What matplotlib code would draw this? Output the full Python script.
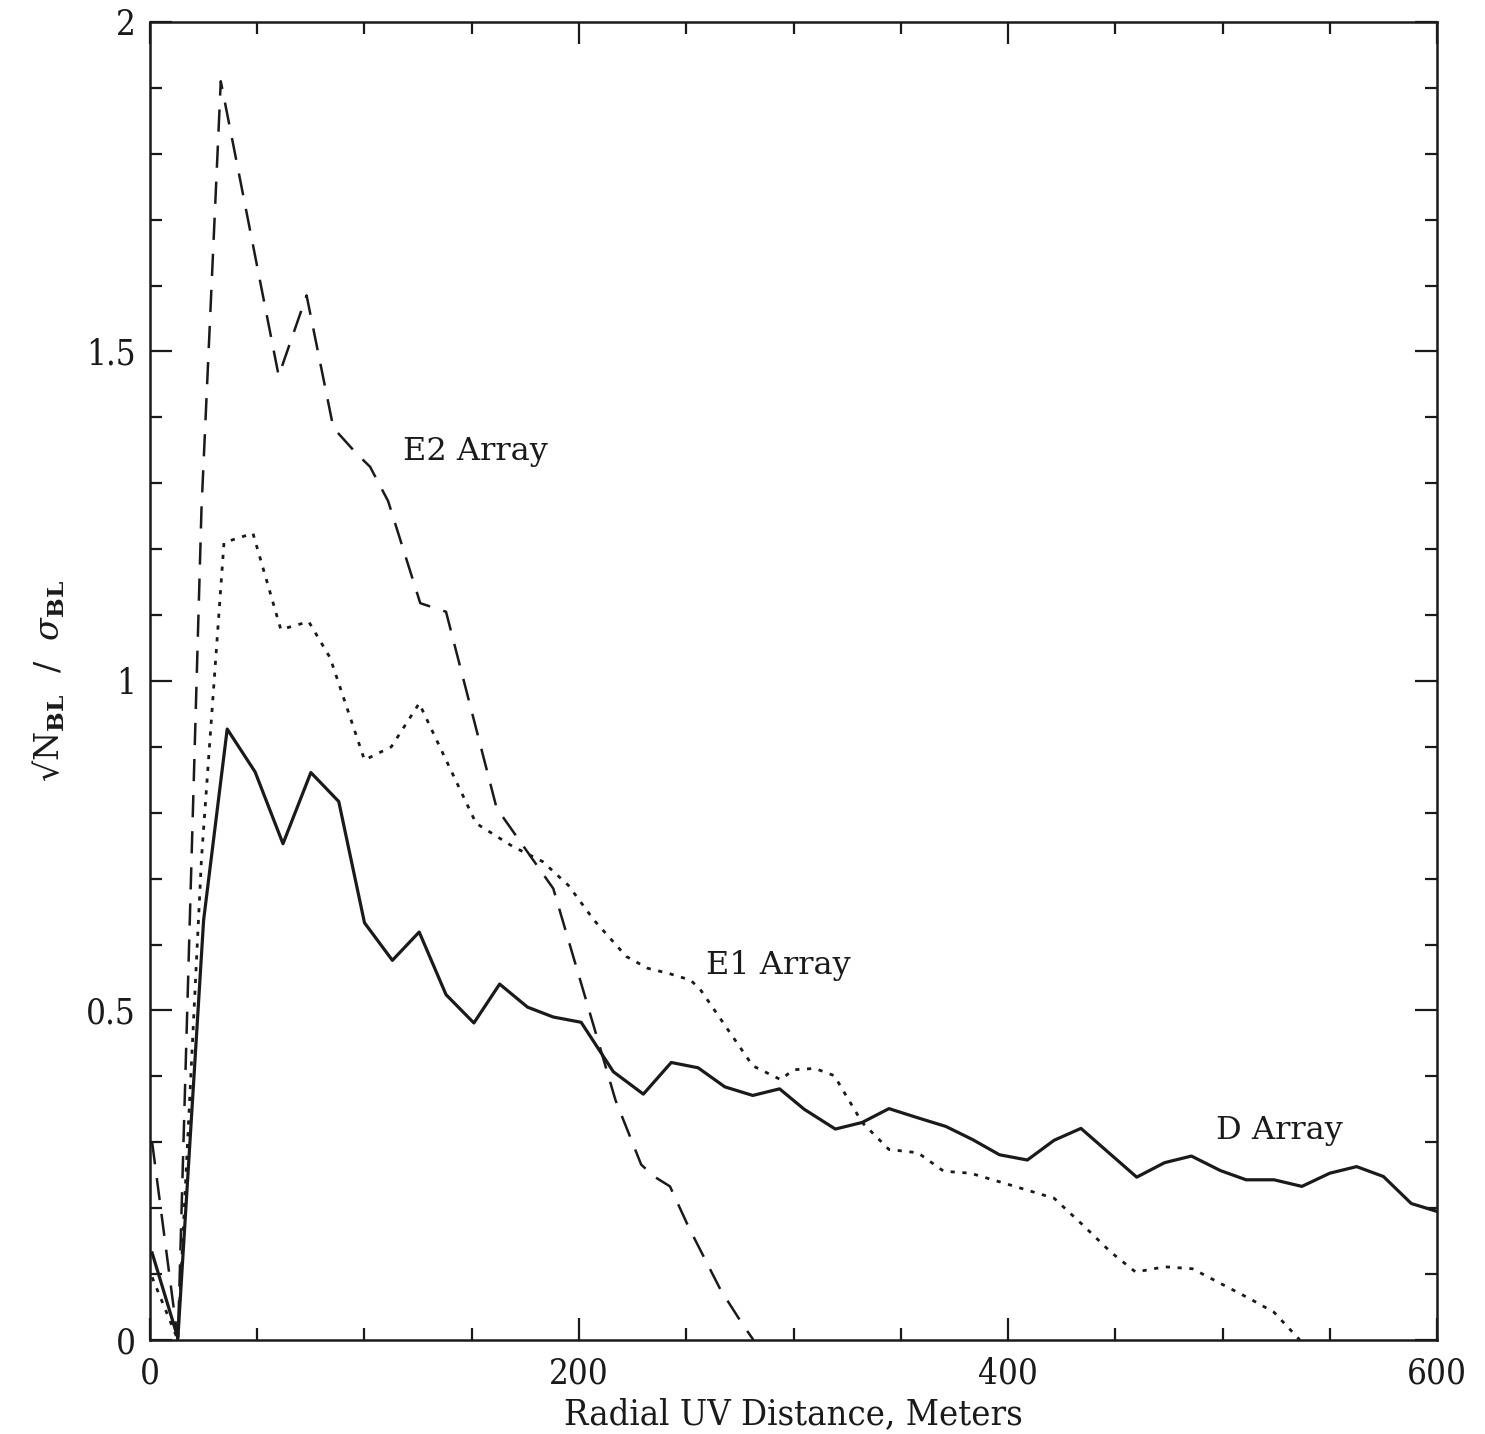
import matplotlib
matplotlib.use('Agg')
import matplotlib.pyplot as plt
from matplotlib.ticker import MultipleLocator

plt.rcParams['font.family'] = ['DejaVu Serif', 'DejaVu Sans']
plt.rcParams['mathtext.fontset'] = 'dejavuserif'
plt.rcParams['lines.scale_dashes'] = False

# D array (solid)
d_x = [1, 13, 25, 36, 49, 62, 75, 88, 100, 113, 125.5, 138, 151, 163, 176, 188,
       201, 216, 230, 243, 255.5, 268, 281, 293.5, 305, 319.5, 332, 344.5, 358,
       371, 383.5, 396, 409, 421.5, 434, 447, 460, 473, 485.5, 499, 511, 524,
       537, 550, 562.5, 575, 588, 600]
d_y = [0.132, 0.003, 0.637, 0.927, 0.862, 0.753, 0.861, 0.817, 0.633, 0.576,
       0.619, 0.524, 0.481, 0.540, 0.505, 0.490, 0.482, 0.407, 0.373, 0.421,
       0.413, 0.384, 0.371, 0.381, 0.350, 0.320, 0.330, 0.351, 0.337, 0.324,
       0.304, 0.281, 0.273, 0.303, 0.321, 0.284, 0.247, 0.269, 0.279, 0.257,
       0.243, 0.243, 0.233, 0.253, 0.263, 0.248, 0.207, 0.195]

# E1 array (dotted)
e1_x = [1, 13, 24, 34.5, 48, 61, 74, 84, 100, 112.5, 125.5, 152, 169, 183,
        195, 207, 222, 232, 242, 252, 256.5, 281, 294, 300, 310, 319, 332,
        344.5, 358, 370, 382.5, 396, 421.5, 435, 448, 459.5, 473, 486, 499.5,
        513, 524, 536]
e1_y = [0.095, 0.0, 0.73, 1.21, 1.224, 1.078, 1.09, 1.035, 0.88, 0.90, 0.966,
        0.784, 0.749, 0.726, 0.69, 0.637, 0.582, 0.564, 0.556, 0.546, 0.532,
        0.416, 0.395, 0.41, 0.412, 0.401, 0.33, 0.289, 0.284, 0.256, 0.253,
        0.240, 0.215, 0.174, 0.133, 0.103, 0.111, 0.108, 0.085, 0.062, 0.042,
        0.0]

# E2 array (dashed)
e2_x = [1, 13, 24, 33, 60, 73, 85.5, 96, 102.6, 111, 126, 138, 161.6, 175,
        188, 217, 229, 235, 242.4, 251, 266, 276, 281.3]
e2_y = [0.30, 0.0, 1.26, 1.91, 1.463, 1.585, 1.384, 1.346, 1.325, 1.273,
        1.118, 1.105, 0.807, 0.745, 0.685, 0.364, 0.266, 0.248, 0.233, 0.172,
        0.076, 0.025, 0.0]

ink = '#1a1a1a'

fig = plt.figure(figsize=(14.85, 14.34), dpi=100)
ax = fig.add_axes([0.101, 0.0656, 0.8667, 0.9191])

ax.plot(d_x, d_y, color=ink, lw=2.3, ls='-')
ax.plot(e1_x, e1_y, color=ink, lw=2.0, ls=(0, (3.0, 5.5)))
ax.plot(e2_x, e2_y, color=ink, lw=1.8, ls=(0, (16, 10)))

ax.text(118, 1.335, 'E2 Array', fontsize=23, color=ink)
ax.text(259, 0.555, 'E1 Array', fontsize=23, color=ink)
ax.text(497, 0.305, 'D Array', fontsize=23, color=ink)

ax.set_xlim(0, 600)
ax.set_ylim(0, 2)
ax.xaxis.set_major_locator(MultipleLocator(200))
ax.xaxis.set_minor_locator(MultipleLocator(50))
ax.yaxis.set_major_locator(MultipleLocator(0.5))
ax.yaxis.set_minor_locator(MultipleLocator(0.1))
ax.set_yticks([0, 0.5, 1, 1.5, 2])
ax.set_yticklabels(['0', '0.5', '1', '1.5', '2'])

ax.tick_params(which='both', direction='in', top=True, right=True,
               colors=ink, width=1.6, labelsize=25)
ax.tick_params(which='major', length=16)
ax.tick_params(which='minor', length=8.5)
ax.tick_params(axis='x', pad=12)
ax.tick_params(axis='y', pad=10)
for lab in ax.get_xticklabels() + ax.get_yticklabels():
    lab.set_fontstretch('condensed')
for s in ax.spines.values():
    s.set_linewidth(1.8)
    s.set_color(ink)

ax.set_xlabel('Radial UV Distance, Meters', fontsize=26, labelpad=5,
              fontstretch='condensed', color=ink)
ax.set_ylabel('\u221aN$_{\\mathbf{BL}}$  /  $\\sigma_{\\mathbf{BL}}$', fontsize=24,
              labelpad=14, color=ink)

fig.savefig('out.png', dpi=100, facecolor='white')
